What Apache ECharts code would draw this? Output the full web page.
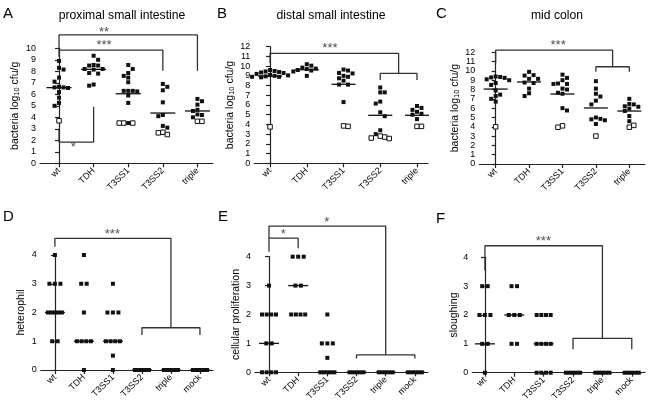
<!DOCTYPE html>
<html><head><meta charset="utf-8">
<script src="https://cdn.jsdelivr.net/npm/echarts@6/dist/echarts.min.js"></script>
<style>html,body{margin:0;padding:0;background:#fff}#c{width:650px;height:405px}</style>
</head><body><div id="c"></div>
<script>
// ---------- categories / tick labels ----------
const catsGut = ['wt','TDH','T3SS1','T3SS2','triple'];
const catsHisto = ['wt','TDH','T3SS1','T3SS2','triple','mock'];
const panelLetters = ['A','B','C','D','E','F'];
const panelTitles = ['proximal small intestine','distal small intestine','mid colon'];
const yNames = ['bacteria log{s|10} cfu/g','bacteria log{s|10} cfu/g','bacteria log{s|10} cfu/g','heterophil','cellular proliferation','sloughing'];

// ---------- A: proximal small intestine ----------
const proxFilled = [
  [8.9, 8.3, 8.15, 7.45, 7.1, 6.65, 6.6, 6.6, 6.55, 6.2, 5.7, 5.25, 5.0],
  [9.35, 9.0, 8.55, 8.5, 8.5, 8.2, 8.2, 8.15, 7.85, 7.8, 6.85, 6.75],
  [8.55, 8.2, 7.85, 7.6, 7.45, 7.05, 6.3, 6.3, 6.3, 6.25, 5.9, 5.25, 3.5],
  [6.9, 6.65, 6.35, 5.3, 4.2, 4.1, 3.25, 3.1],
  [5.6, 5.4, 5.1, 4.65, 4.55, 4.25, 4.2, 4.0]
];
const proxOpen = [[3.7], [], [3.5, 3.5, 3.5], [2.7, 2.5, 2.65], [3.65, 3.65]];
const proxMedian = [6.58, 8.17, 6.05, 4.37, 4.55];

// ---------- B: distal small intestine ----------
const distFilled = [
  [9.6, 9.5, 9.45, 9.4, 9.35, 9.3, 9.2, 9.1, 9.05, 9.0, 8.95, 8.9, 8.9, 8.85],
  [10.2, 10.05, 9.85, 9.75, 9.7, 9.6, 9.55, 9.45, 9.0],
  [9.65, 9.55, 9.3, 9.25, 9.0, 8.9, 8.75, 8.5, 8.1, 8.1, 6.3],
  [7.8, 7.3, 7.3, 6.35, 6.15, 5.25, 4.85, 3.4, 3.0],
  [5.9, 5.7, 5.5, 5.3, 5.1, 5.0, 4.55]
];
const distOpen = [[3.75], [], [3.8, 3.85], [2.8, 2.55, 2.7, 2.6], [3.8, 3.8]];
const distMedian = [8.98, 9.63, 8.13, 4.94, 4.94];

// ---------- C: mid colon ----------
const colonFilled = [
  [9.4, 9.35, 9.3, 9.25, 9.1, 9.0, 8.7, 8.5, 7.9, 7.45, 7.3, 7.0, 6.7],
  [9.9, 9.55, 9.5, 9.15, 9.15, 8.75, 8.7, 8.1, 7.6, 7.3],
  [9.6, 9.25, 9.0, 8.65, 8.6, 8.6, 8.1, 8.0, 7.65, 7.55, 6.0, 5.75],
  [8.9, 8.1, 7.55, 7.25, 6.8, 6.4, 5.0, 4.85, 4.8, 4.7, 4.3],
  [7.0, 6.45, 6.4, 6.2, 6.15, 5.95, 5.7, 5.15, 4.6]
];
const colonOpen = [[4.0], [], [3.95, 4.1], [3.0], [3.95, 4.15]];
const colonMedian = [8.05, 8.81, 7.52, 6.02, 5.69];

// ---------- D: heterophil ----------
const heteroScores = [
  [4, 3, 3, 3, 2, 2, 2, 2, 2, 1, 1],
  [4, 3, 3, 2, 1, 1, 1, 1, 0],
  [3, 2, 2, 2, 1, 1, 1, 1, 0.5, 0],
  [0, 0, 0, 0, 0],
  [0, 0, 0, 0, 0],
  [0, 0, 0, 0, 0]
];
const heteroMedian = [2, 1, 1, 0, 0, 0];

// ---------- E: cellular proliferation ----------
const prolifScores = [
  [3, 2, 2, 2, 2, 1, 1, 0, 0, 0, 0],
  [4, 4, 4, 3, 3, 2, 2, 2, 2],
  [2, 1, 1, 1, 0.5, 0, 0, 0, 0, 0],
  [0, 0, 0, 0, 0],
  [0, 0, 0, 0, 0],
  [0, 0, 0, 0, 0]
];
const prolifMedian = [1, 3, 0, 0, 0, 0];

// ---------- F: sloughing ----------
const sloughScores = [
  [3, 3, 2, 2, 2, 1, 1, 0],
  [3, 3, 2, 2, 2, 1, 1],
  [2, 2, 2, 2, 1, 1, 1, 1, 0, 0, 0, 0],
  [0, 0, 0, 0, 0],
  [0, 0, 0, 0, 0],
  [0, 0, 0, 0, 0]
];
const sloughMedian = [1, 2, 1, 0, 0, 0];

// ---------- significance brackets (category index, value level) ----------
const bracketsA = [
  {path: [[0, 9.27], [0, 11.16], [4, 11.16], [4, 8.05]], text: '**', at: [1.3, 11.4]},
  {path: [[0, 9.85], [3, 9.85], [3, 8.05]], text: '***', at: [1.3, 10.22]},
  {path: [[0, 2.9], [0, 1.85], [1, 1.85], [1, 4.92]], text: '*', at: [0.41, 1.38]}
];
const bracketsB = [
  {path: [[0, 10.29], [0, 11.32], [3.5, 11.32], [3.5, 9.26]], text: '***', at: [1.63, 11.8]},
  {path: [[3, 8.57], [3, 9.26], [4, 9.26], [4, 8.57]], text: '', at: null}
];
const bracketsC = [
  {path: [[0, 10.82], [0, 12.24], [3.5, 12.24], [3.5, 10.45]], text: '***', at: [1.87, 12.75]},
  {path: [[3, 9.91], [3, 10.45], [4, 10.45], [4, 9.91]], text: '', at: null}
];
const bracketsD = [
  {path: [[0, 4.29], [0, 4.58], [4, 4.58], [4, 1.47]], text: '***', at: [1.98, 4.72]},
  {path: [[3, 1.22], [3, 1.47], [5, 1.47], [5, 1.22]], text: '', at: null}
];
const bracketsE = [
  {path: [[0, 4.64], [0, 5.06], [4, 5.06], [4, 0.6]], text: '*', at: [1.98, 5.2]},
  {path: [[3, 0.48], [3, 0.6], [5, 0.6], [5, 0.48]], text: '', at: null},
  {path: [[0, 4.17], [0, 4.64], [1, 4.64], [1, 4.29]], text: '*', at: [0.49, 4.78]}
];
const bracketsF = [
  {path: [[0, 3.54], [0, 4.40], [4, 4.40], [4, 1.19]], text: '***', at: [1.99, 4.55]},
  {path: [[3, 0.81], [3, 1.19], [5, 1.19], [5, 0.81]], text: '', at: null}
];

// ---------- layout (pixels) ----------
const FONT = 'Liberation Sans, Arial, sans-serif';
const panels = [
  {grid: {left: 40, top: 48.3, width: 173, height: 115}, x: [-0.55, 4.45], y: [0, 10], cats: catsGut, filled: proxFilled, open: proxOpen, med: proxMedian, br: bracketsA, nameGap: 19, medW: 25, swarm: 'bee', letter: [3, 6], title: 122, titleTop: 10},
  {grid: {left: 254.3, top: 46.7, width: 173.7, height: 116.6}, x: [-0.43, 4.3], y: [0, 12], cats: catsGut, filled: distFilled, open: distOpen, med: distMedian, br: bracketsB, nameGap: 17, medW: 24, swarm: 'bee', letter: [217, 6], title: 331, titleTop: 10},
  {grid: {left: 479.3, top: 52.3, width: 165.7, height: 111.7}, x: [-0.49, 4.47], y: [0, 12], cats: catsGut, filled: colonFilled, open: colonOpen, med: colonMedian, br: bracketsC, nameGap: 18, medW: 24, swarm: 'bee', letter: [436, 6], title: 557, titleTop: 10},
  {grid: {left: 40.7, top: 255, width: 172.3, height: 115}, x: [-0.49, 5.45], y: [0, 4], cats: catsHisto, filled: heteroScores, open: null, med: heteroMedian, br: bracketsD, nameGap: 14, medW: 20, swarm: 'row', letter: [3, 209]},
  {grid: {left: 255, top: 256.7, width: 173, height: 115.6}, x: [-0.48, 5.45], y: [0, 4], cats: catsHisto, filled: prolifScores, open: null, med: prolifMedian, br: bracketsE, nameGap: 11, medW: 20, swarm: 'row', letter: [218, 209]},
  {grid: {left: 472.3, top: 257.3, width: 172.7, height: 115.4}, x: [-0.43, 5.45], y: [0, 4], cats: catsHisto, filled: sloughScores, open: null, med: sloughMedian, br: bracketsF, nameGap: 13, medW: 20, swarm: 'row', letter: [436, 211]}
];

// rows of identical scores, centred, compressed to a max width
function rowLayout(items, pxY, pxX) {
  const step = 5.5, span = 14;
  const sorted = items.slice().sort((a, b) => b.v - a.v);
  const rows = [];
  let cur = null;
  sorted.forEach(p => {
    if (cur && Math.abs(cur[0].v - p.v) * pxY < 2) cur.push(p);
    else { cur = [p]; rows.push(cur); }
  });
  rows.forEach(r => {
    const n = r.length;
    const s = n > 1 ? Math.min(step, span / (n - 1)) : 0;
    r.forEach((p, k) => { p.dx = (k - (n - 1) / 2) * s / pxX; });
  });
  return sorted;
}
// bee-swarm: nearest free horizontal slot without overlapping placed marks
function beeLayout(items, pxY, pxX) {
  const coll = 4.5, grid = 2.25;
  const sorted = items.slice().sort((a, b) => b.v - a.v);
  const placed = [];
  let flip = 1;
  sorted.forEach(p => {
    const y = p.v * pxY;
    for (let k = 0; k < 40; k++) {
      const cands = k === 0 ? [0] : [flip * k * grid, -flip * k * grid];
      let ok = null;
      for (const c of cands) {
        if (!placed.some(q => Math.abs(q.x - c) < coll && Math.abs(q.y - y) < coll)) { ok = c; break; }
      }
      if (ok !== null) {
        if (ok !== 0) flip = ok > 0 ? -1 : 1;
        placed.push({x: ok, y});
        p.dx = ok / pxX;
        break;
      }
    }
  });
  return sorted;
}

const grids = [], xAxes = [], yAxes = [], series = [], titles = [];
panels.forEach((P, pi) => {
  grids.push(Object.assign({containLabel: false, outerBoundsMode: 'none'}, P.grid));
  const idx = P.cats.map((c, i) => i);
  xAxes.push({
    type: 'value', gridIndex: pi, min: P.x[0], max: P.x[1],
    axisLine: {show: true, onZero: false, lineStyle: {color: '#222', width: 1.2}},
    axisTick: {show: true, customValues: idx, length: 4, lineStyle: {color: '#222', width: 1.2}},
    axisLabel: {show: true, customValues: idx, formatter: v => P.cats[Math.round(v)], rotate: 45, fontSize: 9, color: '#000', fontFamily: FONT, margin: 6},
    splitLine: {show: false}
  });
  yAxes.push({
    type: 'value', gridIndex: pi, min: P.y[0], max: P.y[1], interval: 1,
    name: yNames[pi], nameLocation: 'middle', nameGap: P.nameGap, nameRotate: 90,
    nameTextStyle: {fontSize: 10.5, color: '#000', fontFamily: FONT, rich: {s: {fontSize: 7.5, fontFamily: FONT, color: '#000', padding: [4, 0, 0, 0]}}},
    axisLine: {show: true, lineStyle: {color: '#222', width: 1.2}},
    axisTick: {show: true, length: 4, lineStyle: {color: '#222', width: 1.2}},
    axisLabel: {fontSize: 9, color: '#000', fontFamily: FONT, margin: 4},
    splitLine: {show: false}
  });
  const pxY = P.grid.height / (P.y[1] - P.y[0]);
  const pxX = P.grid.width / (P.x[1] - P.x[0]);
  const filledPts = [], openPts = [];
  P.cats.forEach((c, ci) => {
    const items = P.filled[ci].map(v => ({v, open: false}));
    if (P.open) P.open[ci].forEach(v => items.push({v, open: true}));
    const laid = P.swarm === 'bee' ? beeLayout(items, pxY, pxX) : rowLayout(items, pxY, pxX);
    laid.forEach(p => { (p.open ? openPts : filledPts).push([ci + p.dx, p.v]); });
  });
  series.push({type: 'scatter', xAxisIndex: pi, yAxisIndex: pi, symbol: 'rect', symbolSize: 4, clip: false, silent: true,
    itemStyle: {color: '#111', opacity: 1}, data: filledPts, z: 3});
  if (openPts.length) series.push({type: 'scatter', xAxisIndex: pi, yAxisIndex: pi, symbol: 'rect', symbolSize: 4.5, clip: false, silent: true,
    itemStyle: {color: '#fff', borderColor: '#111', borderWidth: 1, opacity: 1}, data: openPts, z: 3});
  series.push({type: 'scatter', xAxisIndex: pi, yAxisIndex: pi, symbol: 'rect', symbolSize: [P.medW, 1.3], clip: false, silent: true,
    itemStyle: {color: '#111', opacity: 1}, data: P.med.map((m, i) => [i, m]), z: 4});
  P.br.forEach(b => {
    series.push({type: 'line', xAxisIndex: pi, yAxisIndex: pi, data: b.path, symbol: 'none', clip: false, silent: true,
      lineStyle: {color: '#333', width: 1.3}, z: 5});
    if (b.at) series.push({type: 'scatter', xAxisIndex: pi, yAxisIndex: pi, data: [b.at], symbol: 'rect', symbolSize: 1, clip: false, silent: true,
      itemStyle: {color: 'rgba(0,0,0,0)'}, z: 6,
      label: {show: true, position: 'inside', formatter: b.text, fontSize: 13, color: '#222', fontFamily: FONT}});
  });
  titles.push({text: panelLetters[pi], left: P.letter[0], top: P.letter[1], textStyle: {fontSize: 15, fontWeight: 'normal', color: '#000', fontFamily: FONT}, padding: 0});
  if (pi < 3) titles.push({text: panelTitles[pi], left: P.title, top: P.titleTop, textAlign: 'center', padding: 0,
    textStyle: {fontSize: 12.2, fontWeight: 'normal', color: '#000', fontFamily: FONT}});
});

const chart = echarts.init(document.getElementById('c'), null, {renderer: 'canvas'});
chart.setOption({animation: false, backgroundColor: '#fff', title: titles, grid: grids, xAxis: xAxes, yAxis: yAxes, series});
</script></body></html>
